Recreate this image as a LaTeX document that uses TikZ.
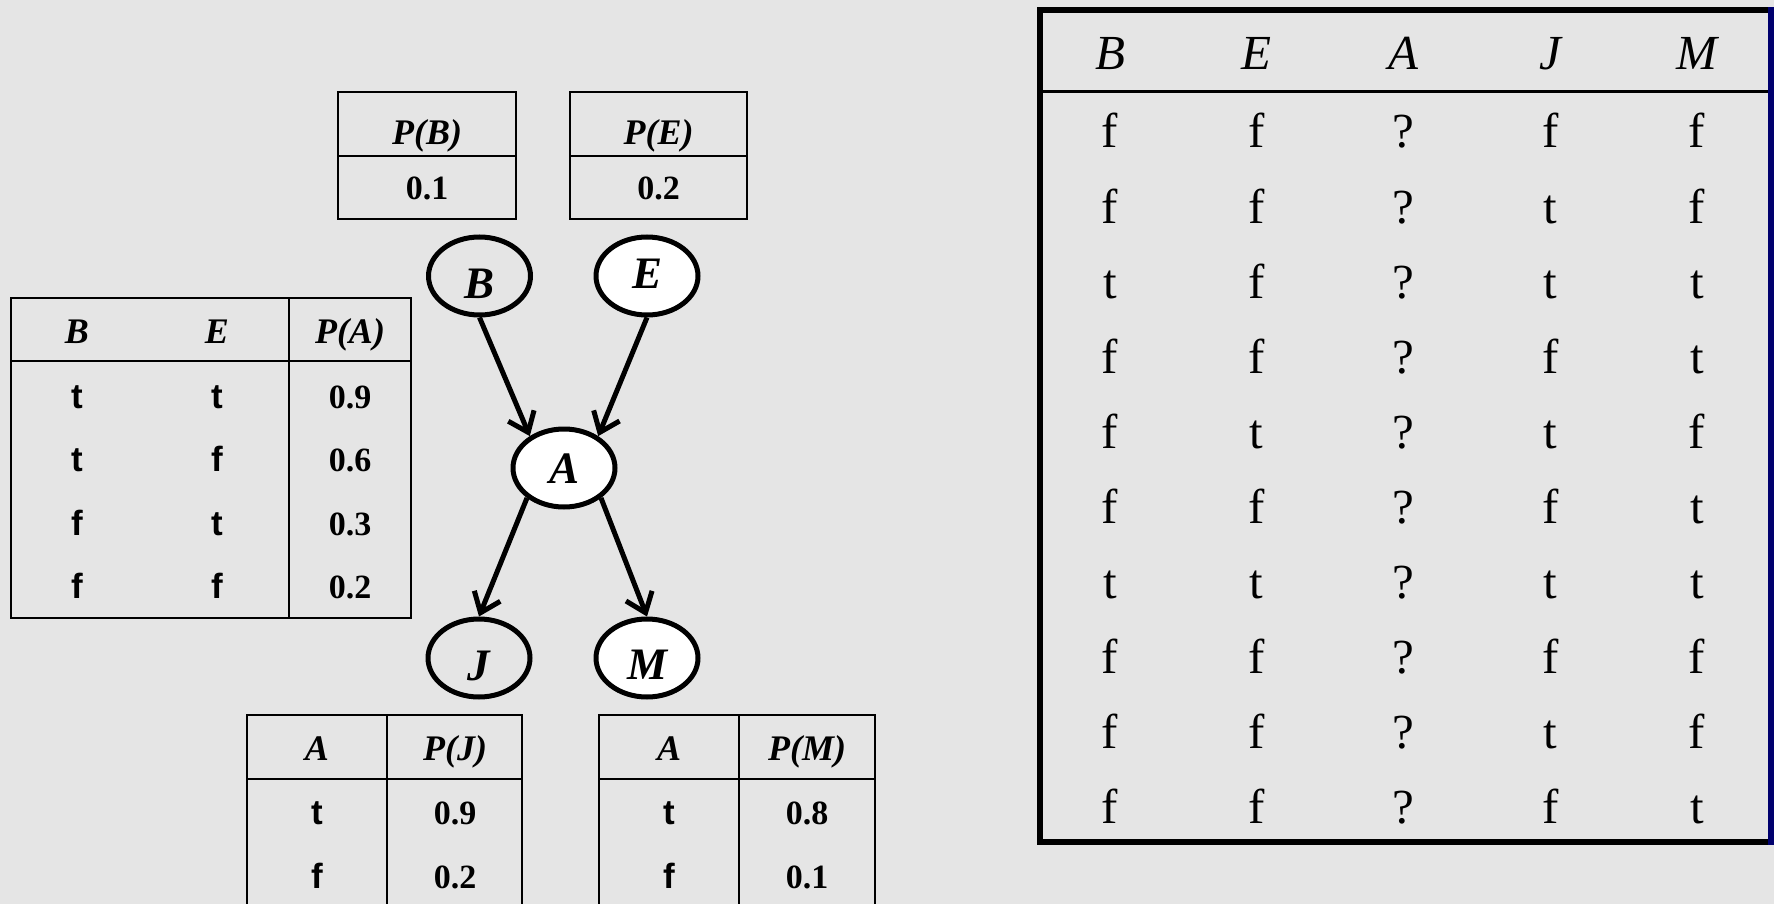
\documentclass[tikz,border=0pt]{standalone}
\usepackage{fontspec}
\setmainfont{Liberation Serif}
\newfontfamily\arialfont{Liberation Sans}
\usetikzlibrary{shapes.geometric,arrows.meta}
\definecolor{bgcol}{RGB}{229,229,229}
\definecolor{navyedge}{RGB}{0,0,110}
\begin{document}
\begin{tikzpicture}[x=1pt,y=-1pt,
  cell/.style={draw=black,line width=2pt},
  hdr/.style={inner sep=0pt,anchor=base,font=\fontsize{36}{40}\selectfont\bfseries\itshape},
  num/.style={inner sep=0pt,anchor=base,font=\fontsize{34}{40}\selectfont\bfseries},
  tf/.style={inner sep=0pt,anchor=base,font=\fontsize{35}{40}\selectfont\arialfont\bfseries},
  var/.style={ellipse,draw=black,line width=5pt,minimum width=102pt,minimum height=78pt,
    inner sep=0pt,text depth=0pt,font=\fontsize{45}{50}\selectfont\bfseries\itshape},
  obs/.style={var,fill=white},
  link/.style={line width=5pt,-{Straight Barb[length=18pt,width=28pt]}},
  big/.style={inner sep=0pt,anchor=base,font=\fontsize{49}{56}\selectfont},
  bighdr/.style={inner sep=0pt,anchor=base,font=\fontsize{49}{56}\selectfont\itshape}
]
\fill[bgcol] (0,0) rectangle (1774,904);
\useasboundingbox (0,0) rectangle (1774,904);
\clip (0,0) rectangle (1774,904);

% prior tables
\draw[cell] (338,92) rectangle (516,219);
\draw[cell] (338,156) -- (516,156);
\node[hdr] (pbh) at (427,145) {P(B)};
\node[num] (pbv) at (427,200) {0.1};
\draw[cell] (570,92) rectangle (747,219);
\draw[cell] (570,156) -- (747,156);
\node[hdr] (peh) at (658.5,145) {P(E)};
\node[num] (pev) at (658.5,200) {0.2};

% table for A given B and E
\draw[cell] (11,298) rectangle (411,618);
\draw[cell] (289,298) -- (289,618);
\draw[cell] (11,361) -- (411,361);
\node[hdr] (cab) at (77,343) {B};
\node[hdr] (cae) at (217,343) {E};
\node[hdr] (cap) at (350,343) {P(A)};
\foreach \b/\e/\p [count=\i] in {t/t/0.9, t/f/0.6, f/t/0.3, f/f/0.2} {
  \pgfmathsetmacro{\yy}{408+(\i-1)*63.5}
  \node[tf] (ca\i b) at (77,\yy) {\b};
  \node[tf] (ca\i e) at (217,\yy) {\e};
  \node[num] (ca\i p) at (350,\yy) {\p};
}

% tables for J and M given A
\draw[cell] (247,715) rectangle (522,907);
\draw[cell] (387,715) -- (387,907);
\draw[cell] (247,779) -- (522,779);
\node[hdr] (cja) at (317,760) {A};
\node[hdr] (cjp) at (455,760) {P(J)};
\node[tf] (cj1a) at (317,824) {t};
\node[num] (cj1p) at (455,824) {0.9};
\node[tf] (cj2a) at (317,888) {f};
\node[num] (cj2p) at (455,888) {0.2};

\draw[cell] (599,715) rectangle (875,907);
\draw[cell] (739,715) -- (739,907);
\draw[cell] (599,779) -- (875,779);
\node[hdr] (cma) at (669,760) {A};
\node[hdr] (cmp) at (807,760) {P(M)};
\node[tf] (cm1a) at (669,824) {t};
\node[num] (cm1p) at (807,824) {0.8};
\node[tf] (cm2a) at (669,888) {f};
\node[num] (cm2p) at (807,888) {0.1};

% network
\node[var, text height=44pt] (B) at (479.5,276) {B};
\node[obs, text height=24pt] (E) at (647,276) {E};
\node[obs, text height=31pt] (A) at (564,468) {A};
\node[var, text height=45pt] (J) at (479,658) {J};
\node[obs, text height=43pt] (M) at (647,658) {M};
\draw[link] (B.south) -- (A.137);
\draw[link] (E.south) -- (A.43);
\draw[link] (A.219) -- (J.north);
\draw[link] (A.321) -- (M.north);

% data table
\draw[line width=6pt] (1774,10) -- (1040,10) -- (1040,842) -- (1774,842);
\fill[navyedge] (1768,7) rectangle (1774,845);
\draw[line width=3pt] (1043,92) -- (1768,92);
\foreach \h [count=\j] in {B,E,A,J,M}
  \node[bighdr] (h\j) at ({1110+(\j-1)*146.75},70) {\h};
\foreach \row [count=\i] in {{f,f,?,f,f},{f,f,?,t,f},{t,f,?,t,t},{f,f,?,f,t},{f,t,?,t,f},
                             {f,f,?,f,t},{t,t,?,t,t},{f,f,?,f,f},{f,f,?,t,f},{f,f,?,f,t}} {
  \foreach \v [count=\j] in \row
    \node[big] (d\i-\j) at ({1110+(\j-1)*146.75},{148+(\i-1)*75}) {\v};
}
\end{tikzpicture}
\end{document}
